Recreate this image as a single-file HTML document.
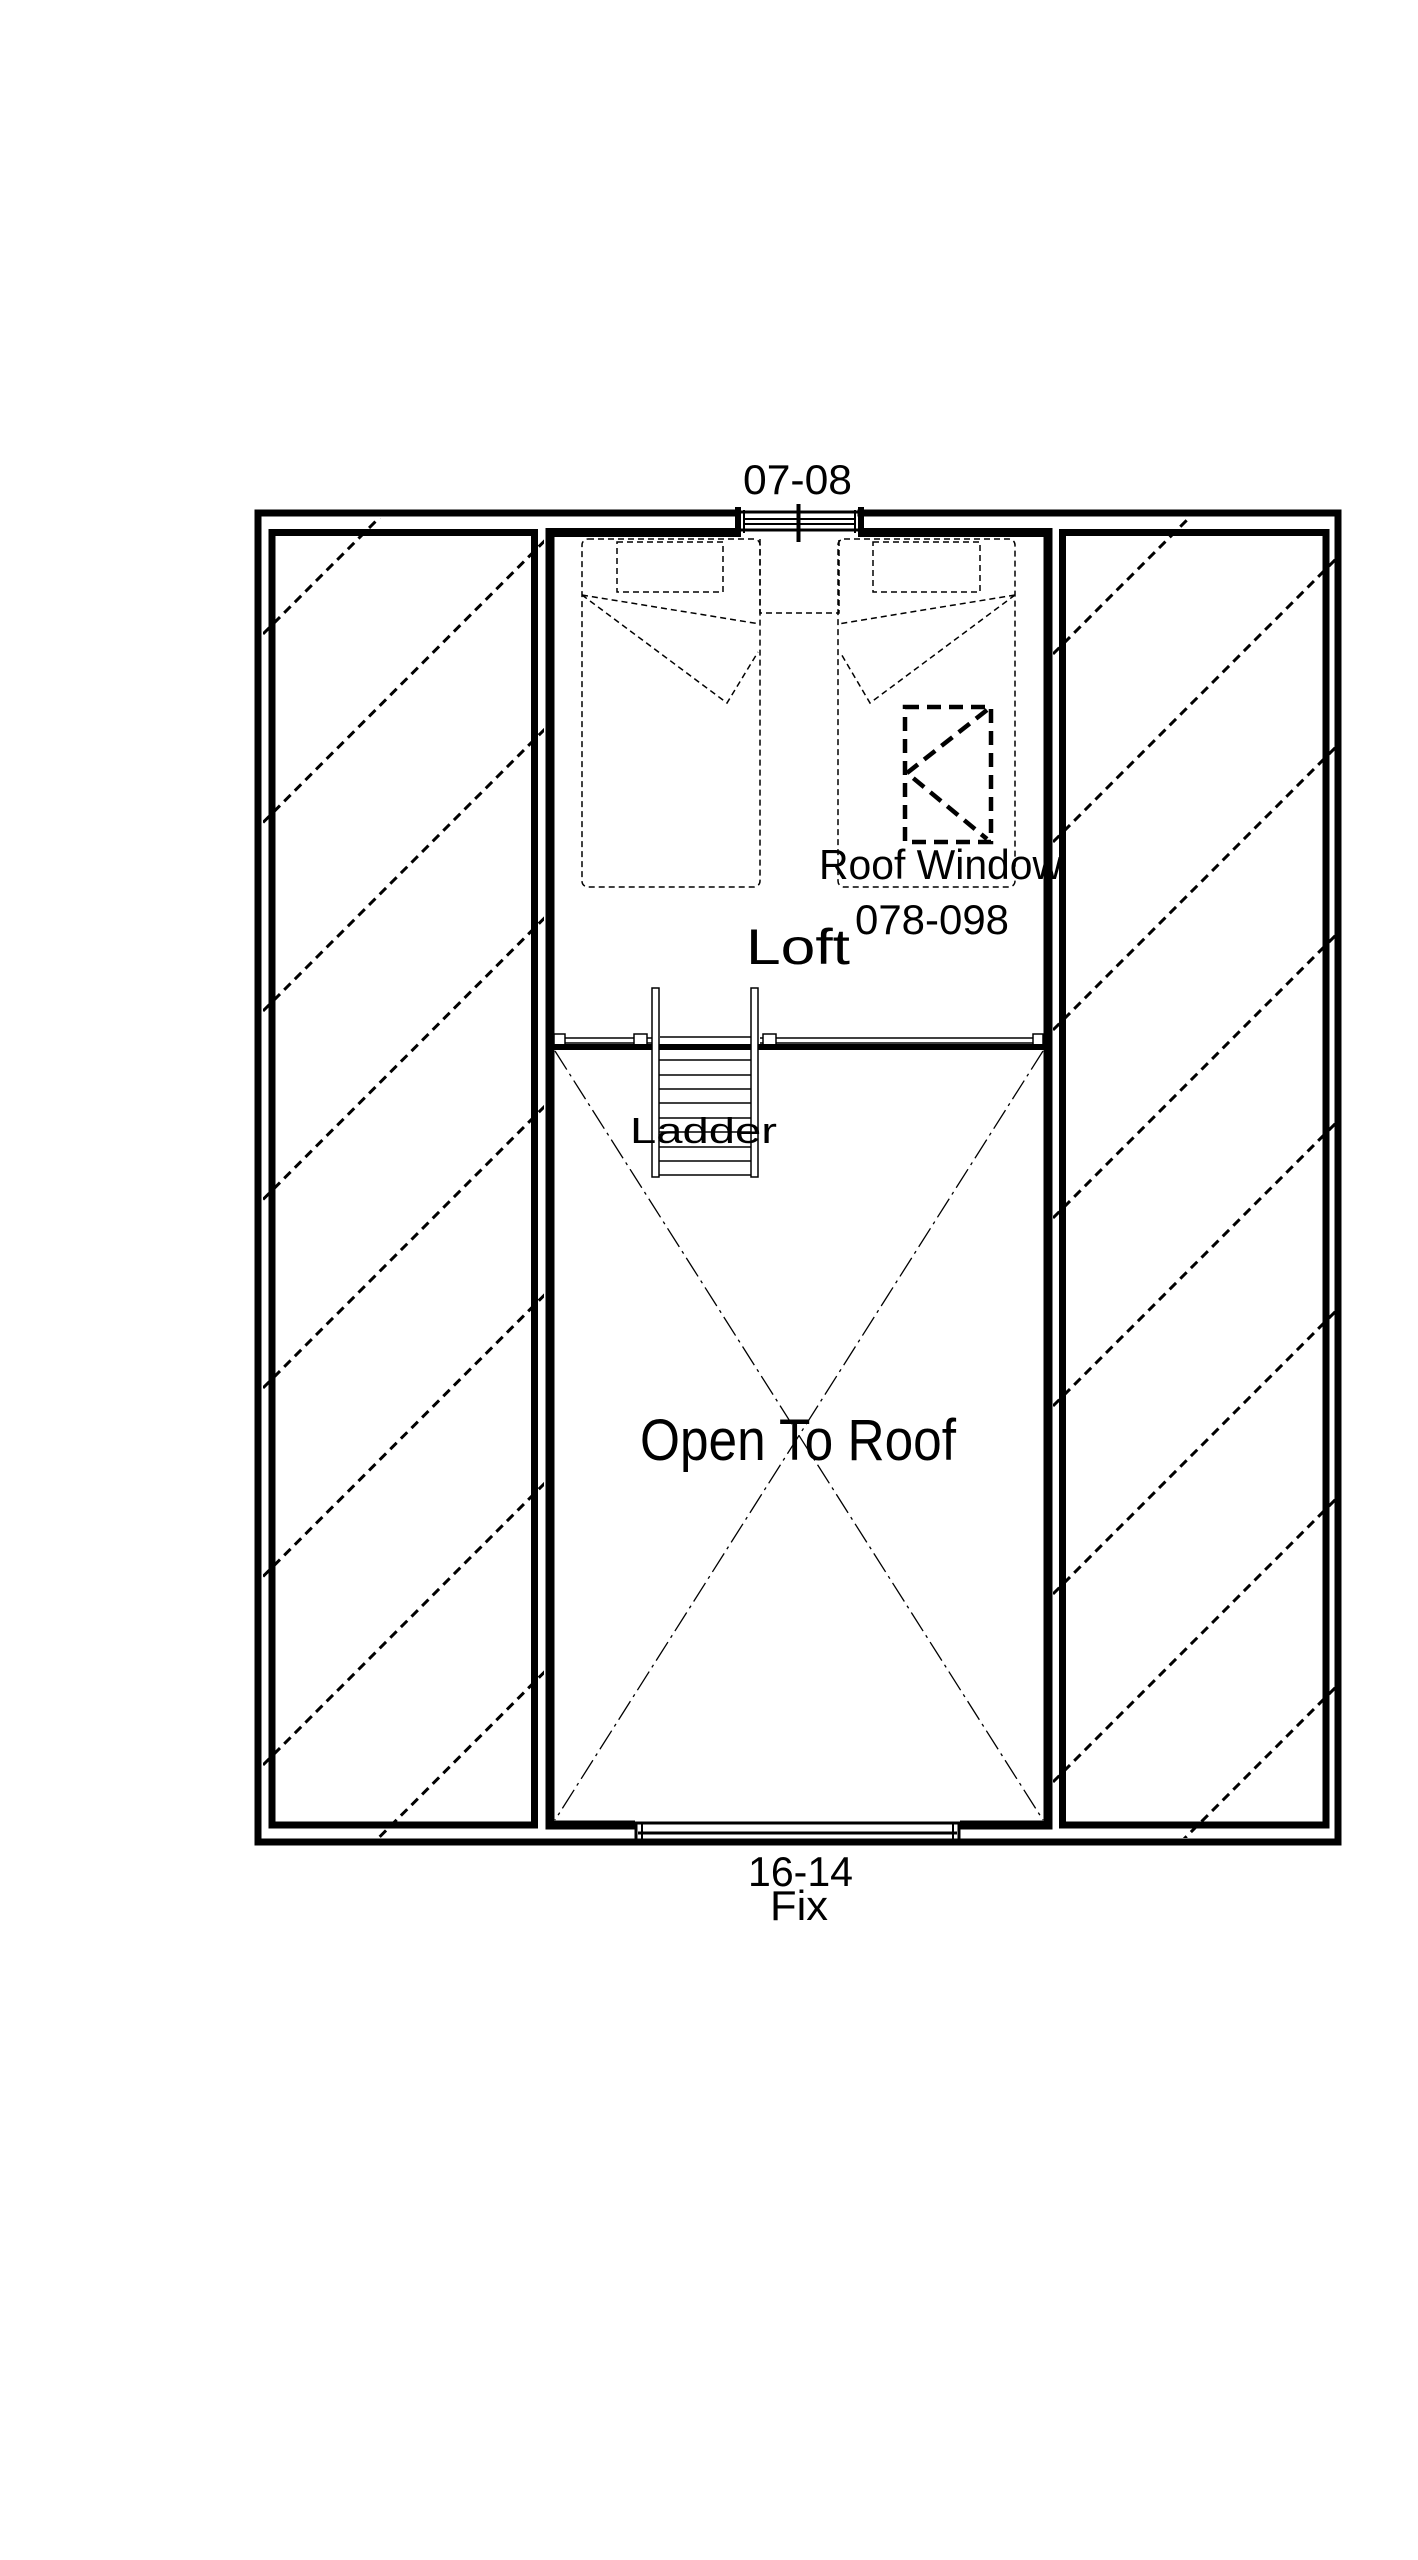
<!DOCTYPE html>
<html><head><meta charset="utf-8"><style>
html,body{margin:0;padding:0;background:#fff;}
svg{display:block;}
text{font-family:"Liberation Sans",sans-serif;fill:#000;}
</style></head><body>
<svg width="1418" height="2560" viewBox="0 0 1418 2560" xmlns="http://www.w3.org/2000/svg">
<rect width="1418" height="2560" fill="#fff"/>
<defs>
<clipPath id="cl"><rect x="263" y="518" width="281" height="1320"/></clipPath>
<clipPath id="cr"><rect x="1053" y="518" width="282" height="1320"/></clipPath>
</defs>
<g stroke="#000" stroke-width="3" stroke-dasharray="9,6" fill="none">
<g clip-path="url(#cl)">
<line x1="263" y1="634" x2="700" y2="197"/>
<line x1="263" y1="822.5" x2="900" y2="185.5"/>
<line x1="263" y1="1011" x2="900" y2="374"/>
<line x1="263" y1="1199.5" x2="900" y2="562.5"/>
<line x1="263" y1="1388" x2="900" y2="751"/>
<line x1="263" y1="1576.5" x2="900" y2="939.5"/>
<line x1="263" y1="1765" x2="900" y2="1128"/>
<line x1="263" y1="1953.5" x2="900" y2="1316.5"/>
</g>
<g clip-path="url(#cr)">
<line x1="1053" y1="654" x2="1500" y2="207"/>
<line x1="1053" y1="842" x2="1500" y2="395"/>
<line x1="1053" y1="1030" x2="1500" y2="583"/>
<line x1="1053" y1="1218" x2="1500" y2="771"/>
<line x1="1053" y1="1406" x2="1500" y2="959"/>
<line x1="1053" y1="1594" x2="1500" y2="1147"/>
<line x1="1053" y1="1782" x2="1500" y2="1335"/>
<line x1="1053" y1="1970" x2="1500" y2="1523"/>
</g>
</g>
<g stroke="#000" stroke-width="7" fill="none" stroke-linecap="square">
<path d="M737 513 H258 V1842 H1338 V513 H861"/>
</g>
<g stroke="#000" stroke-width="7" fill="none">
<rect x="272" y="532.5" width="262.5" height="1292.5"/>
<rect x="1062.5" y="532.5" width="263.5" height="1292.5"/>
</g>
<g stroke="#000" stroke-width="9" fill="none">
<path d="M737 532.5 H550 V1825 H635"/>
<path d="M861 532.5 H1048 V1825 H960"/>
</g>
<g stroke="#000" fill="none">
<line x1="738" y1="507" x2="738" y2="537" stroke-width="6"/>
<line x1="744" y1="510" x2="744" y2="533" stroke-width="2"/>
<line x1="855" y1="510" x2="855" y2="533" stroke-width="2"/>
<line x1="861" y1="507" x2="861" y2="537" stroke-width="6"/>
<line x1="740" y1="512" x2="858" y2="512" stroke-width="3"/>
<line x1="744" y1="519" x2="855" y2="519" stroke-width="2"/>
<line x1="744" y1="524" x2="855" y2="524" stroke-width="2"/>
<line x1="740" y1="530" x2="858" y2="530" stroke-width="3"/>
<line x1="798.5" y1="504" x2="798.5" y2="542" stroke-width="4"/>
</g>
<g stroke="#000" fill="none">
<line x1="630" y1="1823" x2="965" y2="1823" stroke-width="3"/>
<line x1="638" y1="1833" x2="957" y2="1833" stroke-width="3"/>
<line x1="636" y1="1822" x2="636" y2="1844" stroke-width="3"/>
<line x1="642" y1="1822" x2="642" y2="1844" stroke-width="2"/>
<line x1="953" y1="1822" x2="953" y2="1844" stroke-width="2"/>
<line x1="959" y1="1822" x2="959" y2="1844" stroke-width="3"/>
</g>
<g stroke="#000" stroke-width="1.5" stroke-dasharray="6,4" fill="none">
<rect x="582" y="539" width="178" height="348" rx="6"/>
<rect x="617" y="542" width="106" height="50"/>
<rect x="838" y="539" width="177" height="348" rx="6"/>
<rect x="873" y="542" width="107" height="50"/>
<path d="M760 539 V613 H839 V539"/>
<path d="M582 595 L760 624 M582 595 L727 703 L758 652"/>
<path d="M1015 595 L838 624 M1015 595 L870 703 L840 652"/>
</g>
<g stroke="#000" stroke-width="4.5" stroke-dasharray="14,8" fill="none">
<rect x="905" y="707" width="86" height="135"/>
<path d="M987 710 L907 773 L987 839"/>
</g>
<g stroke="#000" fill="#fff" stroke-width="1.5">
<line x1="554" y1="1038" x2="652" y2="1038"/>
<line x1="554" y1="1043" x2="652" y2="1043"/>
<line x1="760" y1="1038" x2="1043" y2="1038"/>
<line x1="760" y1="1043" x2="1043" y2="1043"/>
<line x1="660" y1="1037" x2="751" y2="1037"/>
<rect x="554" y="1034" width="11" height="11"/>
<rect x="634" y="1034" width="13" height="11"/>
<rect x="763" y="1034" width="13" height="11"/>
<rect x="1033" y="1034" width="10" height="11"/>
</g>
<line x1="550" y1="1047" x2="1048" y2="1047" stroke="#000" stroke-width="6"/>
<g stroke="#000" stroke-width="1.5" fill="#fff">
<rect x="652" y="988" width="7" height="189"/>
<rect x="751" y="988" width="7" height="189"/>
</g>
<g stroke="#000" stroke-width="1.5">
<line x1="659" y1="1060" x2="751" y2="1060"/>
<line x1="659" y1="1075" x2="751" y2="1075"/>
<line x1="659" y1="1089" x2="751" y2="1089"/>
<line x1="659" y1="1103" x2="751" y2="1103"/>
<line x1="659" y1="1118" x2="751" y2="1118"/>
<line x1="659" y1="1132" x2="751" y2="1132"/>
<line x1="659" y1="1147" x2="751" y2="1147"/>
<line x1="659" y1="1161" x2="751" y2="1161"/>
<line x1="659" y1="1175" x2="751" y2="1175"/>
</g>
<g stroke="#000" stroke-width="1.3" stroke-dasharray="22,5,3,5" fill="none">
<line x1="555" y1="1051" x2="1043" y2="1820"/>
<line x1="1043" y1="1051" x2="555" y2="1820"/>
</g>
<text x="743" y="494" font-size="42" textLength="109" lengthAdjust="spacingAndGlyphs">07-08</text>
<text x="746" y="964" font-size="50" textLength="104" lengthAdjust="spacingAndGlyphs">Loft</text>
<text x="819" y="879" font-size="42" textLength="243" lengthAdjust="spacingAndGlyphs">Roof Window</text>
<text x="855" y="934" font-size="42" textLength="154" lengthAdjust="spacingAndGlyphs">078-098</text>
<text x="630" y="1143" font-size="36" textLength="147" lengthAdjust="spacingAndGlyphs">Ladder</text>
<text x="640" y="1460" font-size="58" textLength="316" lengthAdjust="spacingAndGlyphs">Open To Roof</text>
<text x="748" y="1886" font-size="42" textLength="105" lengthAdjust="spacingAndGlyphs">16-14</text>
<text x="770" y="1920" font-size="42" textLength="58" lengthAdjust="spacingAndGlyphs">Fix</text>
</svg>
</body></html>
